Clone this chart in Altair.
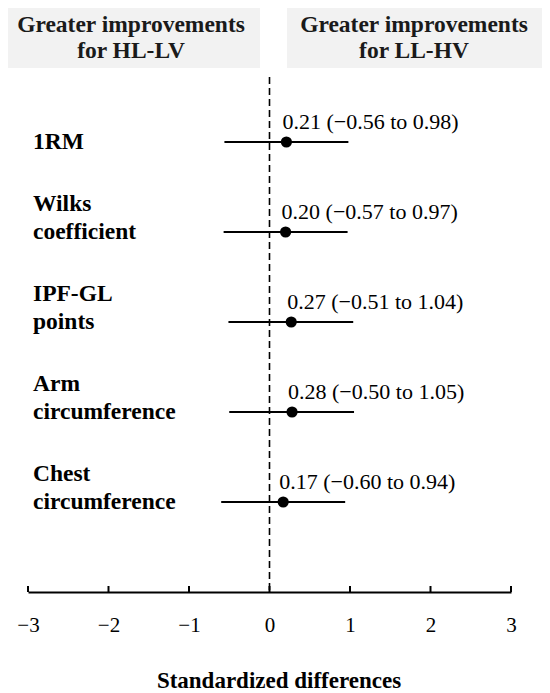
import altair as alt
import pandas as pd

# ---- data ----
outcomes = ["1RM", "Wilks coefficient", "IPF-GL points", "Arm circumference", "Chest circumference"]
label_line1 = ["", "Wilks", "IPF-GL", "Arm", "Chest"]
label_line2 = ["1RM", "coefficient", "points", "circumference", "circumference"]
estimates = [0.21, 0.20, 0.27, 0.28, 0.17]
lower = [-0.56, -0.57, -0.51, -0.50, -0.60]
upper = [0.98, 0.97, 1.04, 1.05, 0.94]
tick_values = [-3, -2, -1, 0, 1, 2, 3]
header_left = ["Greater improvements", "for HL-LV"]
header_right = ["Greater improvements", "for LL-HV"]
x_title = "Standardized differences"


def fmt(v):
    return f"{v:.2f}".replace("-", "\u2212")


df = pd.DataFrame({
    "outcome": outcomes,
    "line1": label_line1,
    "line2": label_line2,
    "est": estimates,
    "lo": lower,
    "hi": upper,
})
df["txt"] = [f"{fmt(e)} ({fmt(l)} to {fmt(u)})" for e, l, u in zip(estimates, lower, upper)]
ticks_df = pd.DataFrame({"t": tick_values})
zero_df = pd.DataFrame({"z": [0]})

FONT = "Liberation Serif"
W, H = 483, 584

xscale = alt.Scale(domain=[-3, 3], nice=False, zero=False)
xaxis = alt.Axis(values=tick_values, format="d", grid=False, ticks=False, domain=True,
                 domainColor="black", domainWidth=2, labelFont=FONT,
                 labelFontSize=21, labelColor="black", labelPadding=22,
                 title=None, labelFlush=False)
yscale = alt.Scale(type="point", domain=outcomes, range=[134, 494], padding=0)
Y = alt.Y("outcome:N", scale=yscale, axis=None)


def X(field):
    return alt.X(field, scale=xscale, axis=xaxis, title=None)


base = alt.Chart(df)

# header boxes
box_left = alt.Chart(pd.DataFrame({"a": [0]})).mark_rect(color="#f2f2f2").encode(
    x=alt.value(-20), x2=alt.value(232), y=alt.value(0), y2=alt.value(60))
box_right = alt.Chart(pd.DataFrame({"a": [0]})).mark_rect(color="#f2f2f2").encode(
    x=alt.value(259), x2=alt.value(514), y=alt.value(0), y2=alt.value(60))


def header_text(txt, xpos, ypos):
    return alt.Chart(pd.DataFrame({"s": [txt]})).mark_text(
        font=FONT, fontSize=23.5, fontWeight="bold", color="#1a1a1a",
        align="center", baseline="alphabetic").encode(
        text="s:N", x=alt.value(xpos), y=alt.value(ypos))


headers = [
    header_text(header_left[0], 103, 24), header_text(header_left[1], 103, 50),
    header_text(header_right[0], 386, 24), header_text(header_right[1], 386, 50),
]

# zero line
zero = alt.Chart(zero_df).mark_rule(color="black", strokeWidth=1.6, strokeDash=[7, 4]).encode(
    x=X("z:Q"), y=alt.value(69), y2=alt.value(H))

# upward axis ticks
tick_marks = alt.Chart(ticks_df).mark_rule(color="black", strokeWidth=2).encode(
    x=X("t:Q"), y=alt.value(H - 6), y2=alt.value(H))

whiskers = base.mark_rule(color="black", strokeWidth=2.2).encode(
    x=X("lo:Q"), x2="hi:Q", y=Y)

dots = base.mark_circle(color="black", size=125, opacity=1).encode(
    x=X("est:Q"), y=Y)

ann = base.mark_text(font=FONT, fontSize=22, color="black", align="left",
                     baseline="middle", dx=-4, dy=-20).encode(
    x=X("est:Q"), y=Y, text="txt:N")

lab2 = base.mark_text(font=FONT, fontSize=23.5, fontWeight="bold", color="black",
                      align="left", baseline="middle").encode(
    x=alt.value(5), y=Y, text="line2:N")
lab1 = base.mark_text(font=FONT, fontSize=23.5, fontWeight="bold", color="black",
                      align="left", baseline="middle", dy=-28).encode(
    x=alt.value(5), y=Y, text="line1:N")

title = alt.Chart(pd.DataFrame({"s": [x_title]})).mark_text(
    font=FONT, fontSize=23, fontWeight="bold", color="black",
    align="center", baseline="alphabetic").encode(
    text="s:N", x=alt.value(251), y=alt.value(680))

chart = alt.layer(
    box_left, box_right, *headers, zero, tick_marks, whiskers, dots, ann, lab1, lab2, title
).properties(
    width=W, height=H,
    autosize=alt.AutoSizeParams(type="none"),
    padding={"left": 20, "right": 31, "top": 0, "bottom": 101},
).configure(background="white").configure_view(stroke=None).configure_axis(grid=False)

chart.save("out.html", embed_options={"renderer": "svg", "actions": False})
